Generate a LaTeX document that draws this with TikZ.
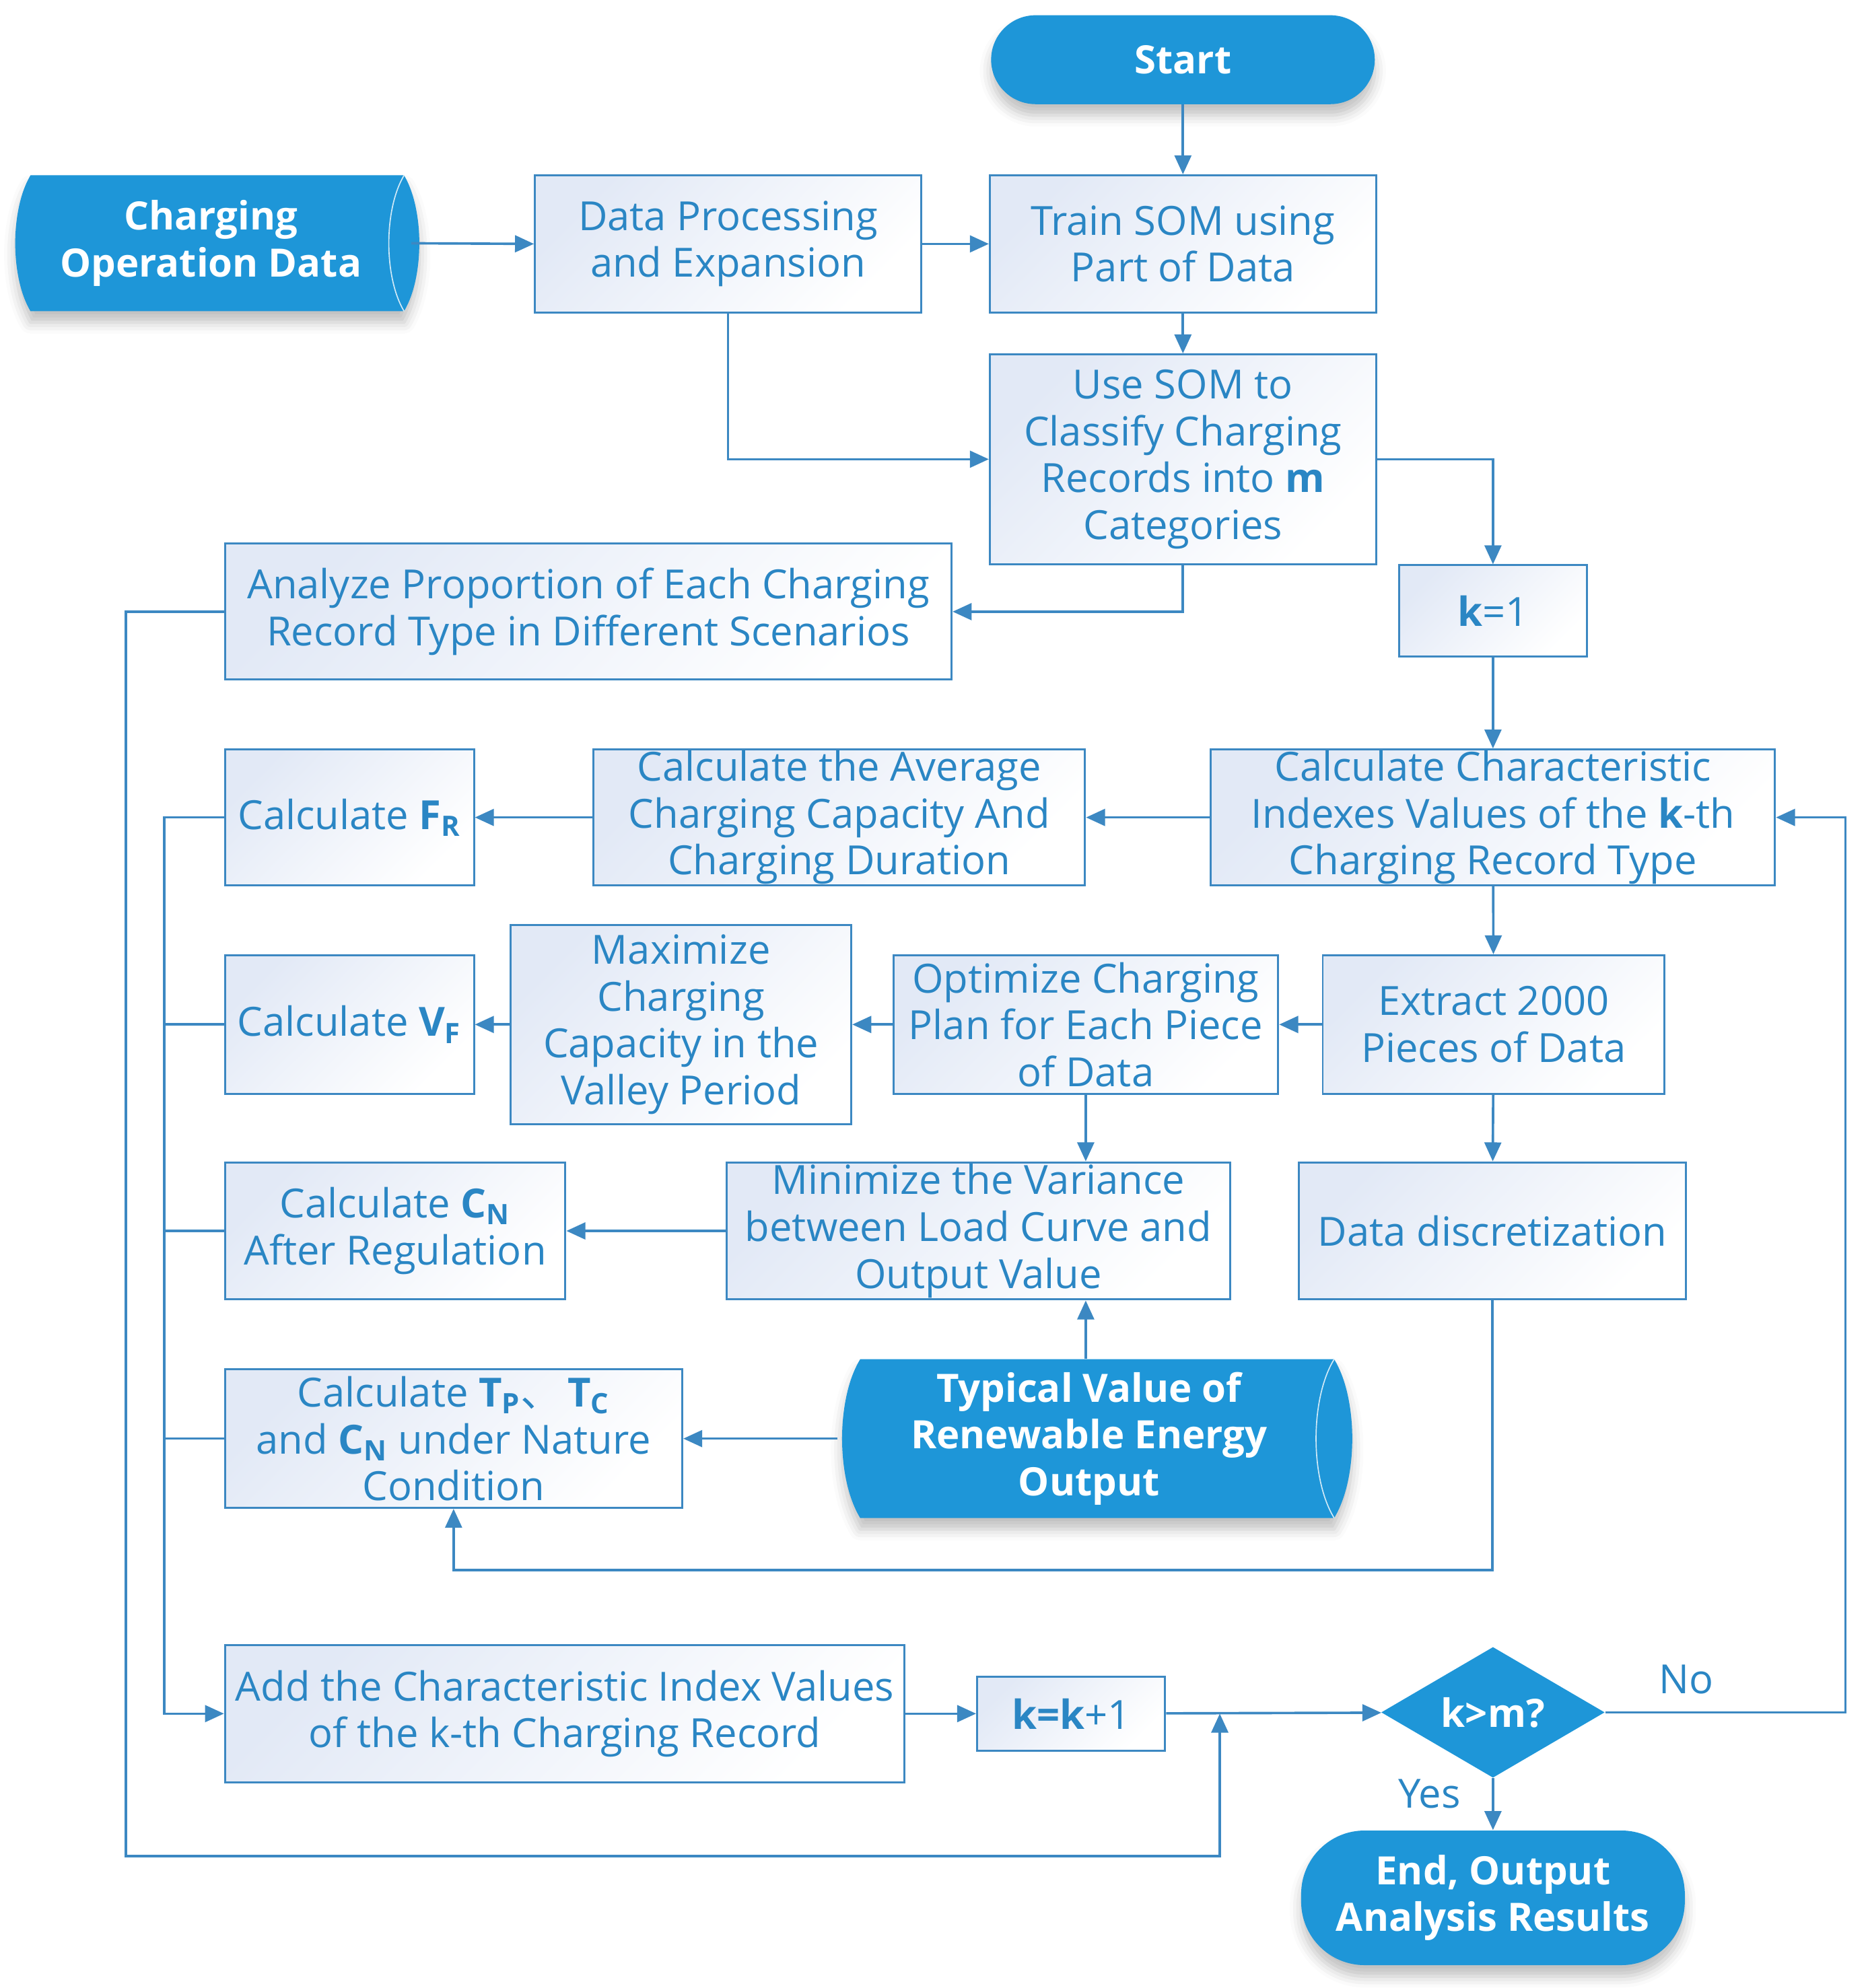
\documentclass[tikz,border=0pt]{standalone}
\usepackage{fontspec}
\setmainfont{Open Sans}
\newfontfamily\cjk{Noto Sans CJK SC}
\usetikzlibrary{arrows.meta,shapes.geometric,shadows.blur}
\definecolor{fillblue}{HTML}{1E96D8}
\definecolor{txtblue}{HTML}{2A86C4}
\definecolor{lineblue}{HTML}{3C88C2}
\definecolor{tint}{HTML}{E2E9F6}
\begin{document}
\begin{tikzpicture}[x=0.02cm,y=-0.02cm,
  shd/.style={blur shadow={shadow xshift=0pt, shadow yshift=-5pt, shadow opacity=25, shadow blur radius=5pt}},
  box/.style={draw=lineblue, line width=0.9pt, top color=tint, bottom color=white, shading angle=45,
    text=txtblue, align=center, inner sep=0pt, font=\fontsize{18}{21}\selectfont},
  term/.style={fill=fillblue, text=white, align=center, inner sep=0pt,
    font=\fontsize{17.5}{21}\selectfont\bfseries, shd},
  plain/.style={text=white, align=center, inner sep=0pt, font=\fontsize{17.5}{21}\selectfont\bfseries},
  conn/.style={draw=lineblue, line width=1.1pt},
  arr/.style={conn, -{Triangle[length=8.5pt,width=7.5pt]}},
  lab/.style={text=txtblue, font=\fontsize{18}{21}\selectfont}]
\useasboundingbox (0,0) rectangle (1470,1565);

% data shapes
\path[fill=fillblue, shd]
  (24,138) -- (318,138) .. controls (334,165) and (334,218) .. (318,245) -- (24,245)
  .. controls (8,218) and (8,165) .. cycle;
\draw[white, line width=0.5pt, opacity=0.8] (318,138) .. controls (302,165) and (302,218) .. (318,245);
\path[fill=fillblue, shd]
  (677,1070) -- (1050,1070) .. controls (1069,1101) and (1069,1164) .. (1050,1195) -- (677,1195)
  .. controls (658,1164) and (658,1101) .. cycle;
\draw[white, line width=0.5pt, opacity=0.8] (1050,1070) .. controls (1031,1101) and (1031,1164) .. (1050,1195);

\node[plain, minimum width=6.3cm, minimum height=2.14cm] (cod) at (166,191.5) {Charging\\Operation Data};
\node[plain, minimum width=7.9cm, minimum height=2.5cm] (typ) at (857,1132.5) {Typical Value of\\Renewable Energy\\Output};

\node[term, rounded corners=0.7cm, minimum width=6.04cm, minimum height=1.4cm] (start) at (931,47) {Start};
\node[term, rounded corners=1.0cm, minimum width=6.04cm, minimum height=2.12cm] (end) at (1175,1494) {End, Output\\Analysis Results};
\node[diamond, fill=fillblue, text=white, inner sep=0pt, aspect=1.7, minimum width=3.52cm, minimum height=2.06cm,
  font=\fontsize{17.5}{21}\selectfont\bfseries] (dia) at (1175,1348) {k>m?};

\node[box, minimum width=6.08cm, minimum height=2.16cm] (dp) at (573,192) {Data Processing\\and Expansion};
\node[box, minimum width=6.08cm, minimum height=2.16cm] (train) at (931,192) {Train SOM using\\Part of Data};
\node[box, minimum width=6.08cm, minimum height=3.30cm] (use) at (931,361.5) {Use SOM to\\Classify Charging\\Records into \textbf{m}\\Categories};
\node[box, minimum width=2.96cm, minimum height=1.44cm] (k1) at (1175,481) {\textbf{k}=1};
\node[box, minimum width=11.44cm, minimum height=2.14cm] (an) at (463,481.5) {Analyze Proportion of Each Charging\\Record Type in Different Scenarios};
\node[box, minimum width=8.88cm, minimum height=2.14cm] (cc) at (1175,643.5) {Calculate Characteristic\\Indexes Values of the \textbf{k}-th\\Charging Record Type};
\node[box, minimum width=7.74cm, minimum height=2.14cm] (avg) at (660.5,643.5) {Calculate the Average\\Charging Capacity And\\Charging Duration};
\node[box, minimum width=3.92cm, minimum height=2.14cm] (fr) at (275,643.5) {Calculate \textbf{F}\textsubscript{\textbf{R}}};
\node[box, minimum width=5.38cm, minimum height=2.18cm] (ex) at (1175.5,806.5) {Extract 2000\\Pieces of Data};
\node[box, minimum width=6.06cm, minimum height=2.18cm] (opt) at (854.5,806.5) {Optimize Charging\\Plan for Each Piece\\of Data};
\node[box, minimum width=5.36cm, minimum height=3.14cm] (max) at (536,806.5) {Maximize\\Charging\\Capacity in the\\Valley Period};
\node[box, minimum width=3.92cm, minimum height=2.18cm] (vf) at (275,806.5) {Calculate \textbf{V}\textsubscript{\textbf{F}}};
\node[box, minimum width=6.10cm, minimum height=2.16cm] (dd) at (1174.5,969) {Data discretization};
\node[box, minimum width=7.92cm, minimum height=2.16cm] (mini) at (770,969) {Minimize the Variance\\between Load Curve and\\Output Value};
\node[box, minimum width=5.36cm, minimum height=2.16cm] (cn) at (311,969) {Calculate \textbf{C}\textsubscript{\textbf{N}}\\After Regulation};
\node[box, minimum width=7.2cm, minimum height=2.18cm] (tp) at (357,1132.5) {Calculate \textbf{T}\textsubscript{\textbf{P}}{\cjk 、}\,\textbf{T}\textsubscript{\textbf{C}}\\and \textbf{C}\textsubscript{\textbf{N}} under Nature\\Condition};
\node[box, minimum width=10.7cm, minimum height=2.16cm] (add) at (444.5,1349) {Add the Characteristic Index Values\\of the k-th Charging Record};
\node[box, minimum width=2.96cm, minimum height=1.16cm] (kk) at (843,1349) {\textbf{k=k}+1};

\coordinate (jn) at (960,1349);
\coordinate (loopc) at (99,1461);
\coordinate (c1) at (357,1236);

% connectors
\draw[arr] (start) -- (train);
\draw[arr] (cod.east) -- (dp.west);
\draw[arr] (dp) -- (train);
\draw[arr] (train) -- (use);
\draw[arr] (dp.south) |- (use.west);
\draw[arr] (use.east) -| (k1.north);
\draw[arr] (use.south) |- (an.east);
\draw[arr] (k1) -- (cc);
\draw[arr] (cc) -- (avg);
\draw[arr] (avg) -- (fr);
\draw[arr] (cc) -- (ex);
\draw[arr] (ex) -- (opt);
\draw[arr] (opt) -- (max);
\draw[arr] (max) -- (vf);
\draw[arr] (opt.south) -- (mini.north -| opt.south);
\draw[arr] (ex) -- (dd);
\draw[arr] (mini) -- (cn);
\draw[arr] (typ.north -| opt.south) -- (mini.south -| opt.south);
\draw[arr] (typ.west) -- (tp.east);
\draw[arr] (dd.south) |- (c1) -- (tp.south);
\draw[arr] (fr.west) -- ++(-47,0) |- (add.west);
\draw[conn] (vf.west) -- ++(-47,0);
\draw[conn] (cn.west) -- ++(-47,0);
\draw[conn] (tp.west) -- ++(-47,0);
\draw[arr] (an.west) -| (loopc) -| (jn);
\draw[arr] (add) -- (kk);
\draw[arr] (kk) -- (dia);
\draw[arr] (dia.east) -- ++(189,0) |- (cc.east);
\draw[arr] (dia) -- (end);
\node[lab] at (1327,1322) {No};
\node[lab] at (1125,1412) {Yes};
\end{tikzpicture}
\end{document}
